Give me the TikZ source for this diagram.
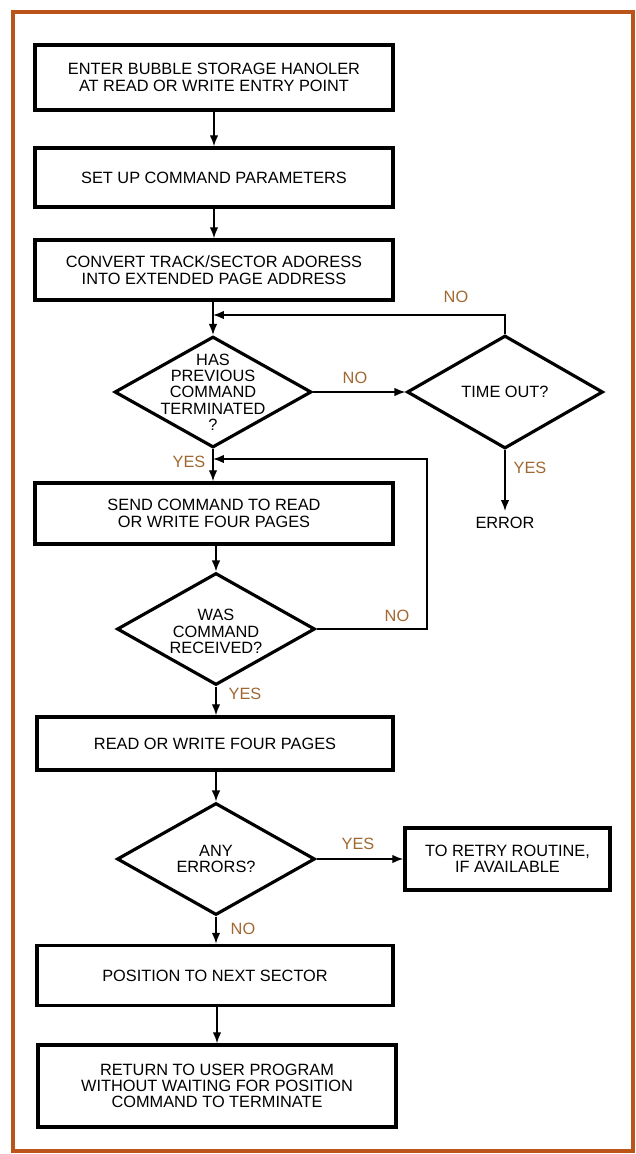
\documentclass[tikz,border=0pt]{standalone}
\usepackage{fontspec}
\setmainfont{Liberation Sans}
\usepackage{xcolor}
\usetikzlibrary{arrows.meta,shapes.geometric}
\definecolor{frame}{RGB}{186,84,24}
\definecolor{answer}{RGB}{160,104,48}

\begin{document}
\begin{tikzpicture}[x=0.02cm,y=-0.02cm,
  every node/.style={font=\fontsize{9.3}{9.3}\selectfont,align=center},
  stepbox/.style={draw,line width=2pt,minimum width=7.16cm,minimum height=1.2cm,inner sep=0pt},
  decision/.style={draw,diamond,line width=1.8pt,minimum width=3.96cm,minimum height=2.24cm,inner sep=0pt},
  answer/.style={text=answer},
  flow/.style={line width=0.8pt,-{Latex[length=2.2mm,width=1.7mm]}}]
\useasboundingbox (0,0) rectangle (636,1154);
\draw[frame,line width=2.2pt] (13,12) rectangle (633,1151);
\node[stepbox,minimum height=1.3cm] (enter) at (214,77.5) {ENTER BUBBLE STORAGE HANOLER\\AT READ OR WRITE ENTRY POINT};
\node[stepbox,minimum height=1.18cm] (setup) at (214,177.5) {SET UP COMMAND PARAMETERS};
\node[stepbox] (convert) at (214,270) {CONVERT TRACK/SECTOR ADORESS\\INTO EXTENDED PAGE ADDRESS};
\node[decision,minimum width=3.94cm,minimum height=2.22cm] (prev) at (213,392) {};
\node at (prev) {HAS\\PREVIOUS\\COMMAND\\TERMINATED\\?};
\node[decision,minimum width=3.92cm,minimum height=2.26cm] (timeout) at (505,392) {};
\node at (timeout) {TIME OUT?};
\node (error) at (505,523) {ERROR};
\node[stepbox,minimum height=1.22cm] (send) at (214,513.5) {SEND COMMAND TO READ\\OR WRITE FOUR PAGES};
\node[decision] (received) at (216,629) {};
\node at ([yshift=-0.05cm]received) {WAS\\COMMAND\\RECEIVED?};
\node[stepbox,minimum width=7.12cm,minimum height=1.06cm] (rw) at (215,743.5) {READ OR WRITE FOUR PAGES};
\node[decision] (errors) at (216,859) {};
\node at (errors) {ANY\\ERRORS?};
\node[stepbox,minimum width=4.1cm,minimum height=1.24cm] (retry) at (507.5,859) {TO RETRY ROUTINE,\\IF AVAILABLE};
\node[stepbox,minimum width=7.12cm] (next) at (215,975.5) {POSITION TO NEXT SECTOR};
\node[stepbox,minimum width=7.16cm,minimum height=1.64cm] (return) at (217,1086) {RETURN TO USER PROGRAM\\WITHOUT WAITING FOR POSITION\\COMMAND TO TERMINATE};
\coordinate (j1) at (213,315);
\coordinate (k1) at (505,315);
\coordinate (j2) at (213,459);
\coordinate (k2) at (427,459);
\draw[flow] (enter) -- (setup);
\draw[flow] (setup) -- (convert);
\draw[flow] (convert.south -| prev.north) -- (prev.north);
\draw[flow] (prev.east) -- (timeout.west);
\draw[flow] (timeout.north) -- (k1) -- (j1);
\draw[flow] (timeout.south) -- (error.north);
\draw[flow] (prev.south) -- (prev.south |- send.north);
\draw[flow] (send.south -| received.north) -- (received.north);
\draw[flow] (received.east) -| (k2) -- (j2);
\draw[flow] (received.south) -- (received.south |- rw.north);
\draw[flow] (rw.south -| errors.north) -- (errors.north);
\draw[flow] (errors.east) -- (retry.west);
\draw[flow] (errors.south) -- (errors.south |- next.north);
\draw[flow] (next.south -| return.north) -- (return.north);
\node[answer] (no1) at (355,378) {NO};
\node[answer] (no2) at (456,297) {NO};
\node[answer] (yes1) at (530,468) {YES};
\node[answer] (yes2) at (189,462) {YES};
\node[answer] (no3) at (397,616) {NO};
\node[answer] (yes3) at (245,694) {YES};
\node[answer] (yes4) at (358,844) {YES};
\node[answer] (no4) at (243,929) {NO};
\end{tikzpicture}
\end{document}
